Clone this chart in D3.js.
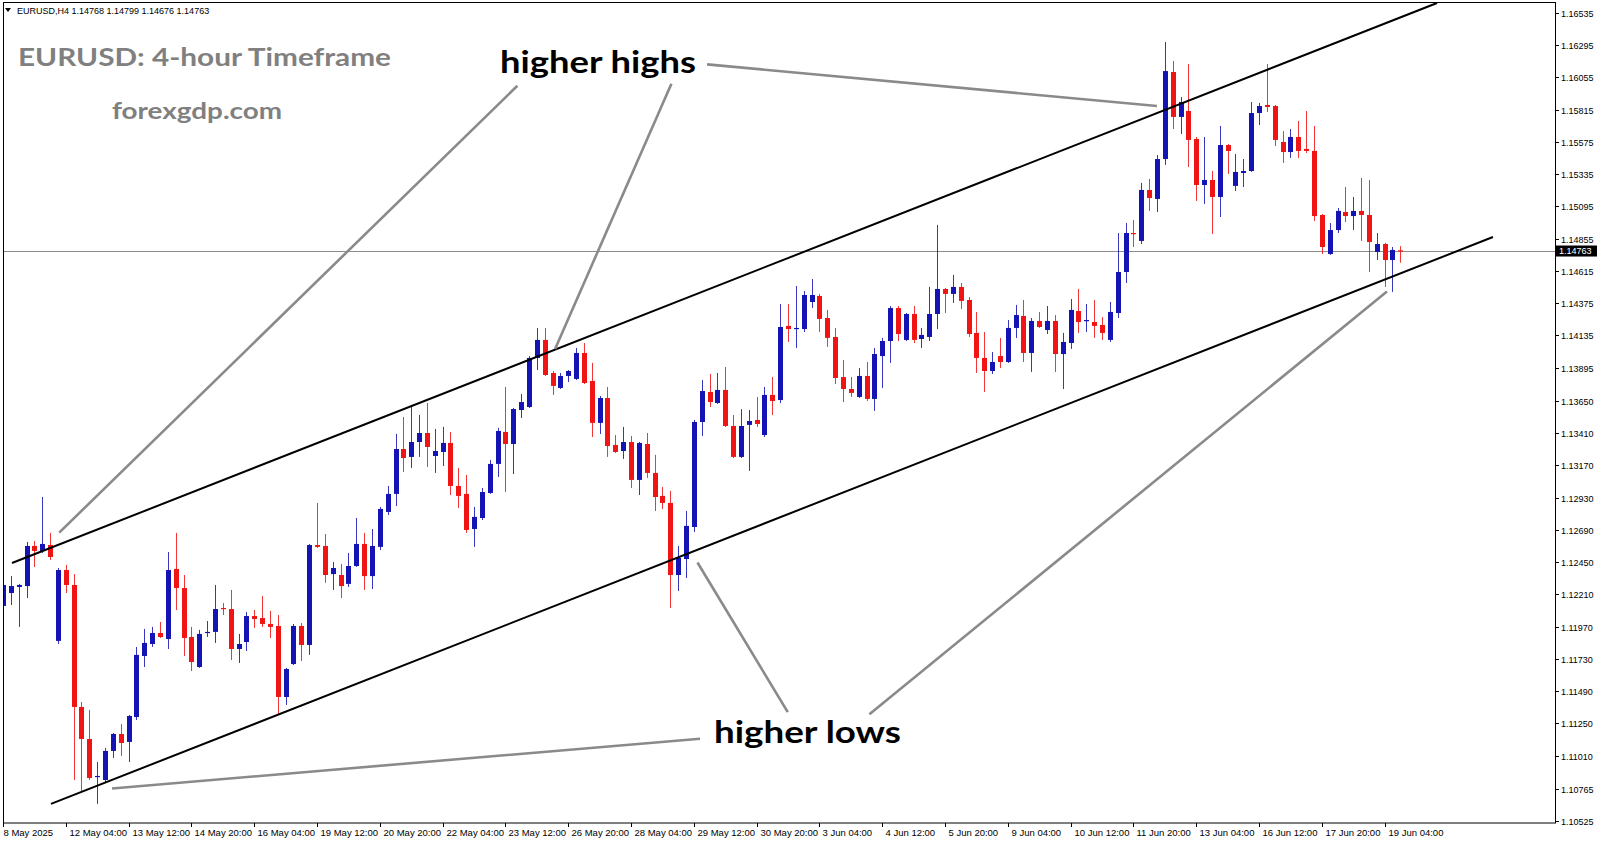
<!DOCTYPE html>
<html><head><meta charset="utf-8">
<script src="https://cdn.jsdelivr.net/npm/d3@7"></script>
<style>html,body{margin:0;padding:0;background:#fff;overflow:hidden}</style>
</head><body>
<svg id="c" width="1600" height="844"></svg>
<script>
// ---- Data (EURUSD H4, 8 May 2025 20:00 -> 19 Jun 2025 12:00) ----
const opens = [1.12124,1.12220,1.12265,1.12272,1.12570,1.12533,1.12577,1.11864,1.12391,1.12280,
1.11373,1.11135,1.10853,1.10830,1.11046,1.11172,1.11113,1.11298,1.11752,1.11841,
1.11923,1.11878,1.12399,1.12257,1.11893,1.11670,1.11923,1.11931,1.12109,1.12101,
1.11804,1.11856,1.12049,1.12034,1.11990,1.11975,1.11447,1.11692,1.11975,1.11834,
1.12577,1.12570,1.12361,1.12354,1.12288,1.12421,1.12585,1.12346,1.12563,1.12823,
1.12957,1.13291,1.13232,1.13343,1.13410,1.13239,1.13269,1.13336,1.13016,1.12957,
1.12696,1.12778,1.12964,1.13180,1.13418,1.13328,1.13581,1.13603,1.13968,1.14102,
1.13856,1.13745,1.13834,1.13812,1.14005,1.13797,1.13485,1.13670,1.13321,1.13276,
1.13343,1.13061,1.13328,1.13113,1.12942,1.12890,1.12354,1.12473,1.12711,1.13492,
1.13715,1.13633,1.13730,1.13462,1.13232,1.13470,1.13507,1.13395,1.13693,1.13655,
1.14206,1.14183,1.14183,1.14384,1.14429,1.14265,1.14124,1.13826,1.13737,1.13678,
1.13834,1.13663,1.13982,1.14094,1.14339,1.14102,1.14295,1.14109,1.14124,1.14295,
1.14481,1.14444,1.14496,1.14399,1.14154,1.13968,1.13871,1.13982,1.13938,1.14191,
1.14280,1.14005,1.14243,1.14176,1.14243,1.13997,1.14079,1.14317,1.14243,1.14235,
1.14213,1.14102,1.14302,1.14607,1.14897,1.14838,1.15217,1.15150,1.15447,1.16094,
1.15760,1.15804,1.15596,1.15254,1.15291,1.15165,1.15551,1.15247,1.15343,1.15358,
1.15789,1.15849,1.15841,1.15574,1.15499,1.15611,1.15522,1.15507,1.15031,1.14741,
1.14919,1.15053,1.15023,1.15061,1.15031,1.14756,1.14815,1.14696,1.14768];
const highs = [1.12296,1.12346,1.12288,1.12600,1.12607,1.12934,1.12667,1.12406,1.12429,1.12361,
1.11410,1.11351,1.10964,1.11068,1.11180,1.11246,1.11313,1.11819,1.11953,1.11968,
1.12005,1.12525,1.12667,1.12354,1.11968,1.11946,1.12012,1.12280,1.12146,1.12243,
1.11916,1.12079,1.12094,1.12198,1.12087,1.12057,1.11663,1.11990,1.11997,1.12585,
1.12890,1.12659,1.12451,1.12436,1.12518,1.12778,1.12667,1.12696,1.12860,1.13016,
1.13403,1.13529,1.13611,1.13544,1.13633,1.13440,1.13455,1.13418,1.13150,1.13098,
1.12860,1.13001,1.13209,1.13448,1.13752,1.13596,1.13700,1.13982,1.14191,1.14191,
1.13871,1.13856,1.13878,1.14042,1.14079,1.13931,1.13685,1.13752,1.13395,1.13455,
1.13388,1.13343,1.13410,1.13247,1.13009,1.12979,1.12570,1.12830,1.13507,1.13804,
1.13849,1.13856,1.13901,1.13544,1.13588,1.13581,1.13678,1.13752,1.13826,1.14369,
1.14369,1.14503,1.14466,1.14555,1.14444,1.14325,1.14191,1.13953,1.13826,1.13893,
1.13938,1.14042,1.14117,1.14354,1.14354,1.14302,1.14354,1.14191,1.14496,1.14957,
1.14488,1.14585,1.14525,1.14421,1.14310,1.14161,1.14012,1.14117,1.14250,1.14362,
1.14399,1.14265,1.14310,1.14354,1.14287,1.14154,1.14406,1.14481,1.14369,1.14399,
1.14272,1.14384,1.14897,1.14971,1.14994,1.15269,1.15299,1.15477,1.16317,1.16176,
1.15908,1.16154,1.15611,1.15611,1.15358,1.15693,1.15559,1.15484,1.15447,1.15871,
1.15864,1.16154,1.15849,1.15655,1.15670,1.15730,1.15804,1.15693,1.15038,1.14971,
1.15083,1.15239,1.15165,1.15306,1.15291,1.14897,1.14823,1.14793,1.14799];
const lows = [1.12116,1.12131,1.11968,1.12183,1.12414,1.12518,1.12466,1.11841,1.12220,1.10830,
1.10741,1.10830,1.10652,1.10808,1.10994,1.11009,1.10964,1.11276,1.11670,1.11819,
1.11886,1.11804,1.12094,1.11752,1.11640,1.11663,1.11893,1.11849,1.12057,1.11722,
1.11700,1.11789,1.11960,1.11968,1.11886,1.11313,1.11388,1.11685,1.11715,1.11760,
1.12555,1.12296,1.12243,1.12183,1.12265,1.12414,1.12243,1.12250,1.12540,1.12800,
1.12867,1.13120,1.13150,1.13232,1.13157,1.13113,1.13165,1.12949,1.12852,1.12667,
1.12563,1.12763,1.12957,1.13083,1.12971,1.13105,1.13522,1.13596,1.13878,1.13834,
1.13693,1.13737,1.13789,1.13804,1.13774,1.13380,1.13403,1.13232,1.13261,1.13217,
1.13001,1.12949,1.13076,1.12830,1.12845,1.12109,1.12235,1.12332,1.12674,1.13388,
1.13603,1.13626,1.13455,1.13224,1.13224,1.13128,1.13455,1.13380,1.13544,1.13633,
1.14087,1.14042,1.14161,1.14339,1.14161,1.14050,1.13774,1.13640,1.13678,1.13670,
1.13648,1.13574,1.13745,1.13931,1.14094,1.14094,1.14079,1.14042,1.14094,1.14183,
1.14302,1.14377,1.14332,1.14124,1.13856,1.13715,1.13849,1.13893,1.13931,1.14117,
1.13938,1.13864,1.14191,1.14146,1.13864,1.13737,1.14035,1.14154,1.14161,1.14117,
1.14102,1.14087,1.14265,1.14525,1.14793,1.14815,1.15061,1.15053,1.15403,1.15670,
1.15633,1.15388,1.15135,1.15113,1.14890,1.15016,1.15336,1.15209,1.15239,1.15351,
1.15700,1.15797,1.15544,1.15418,1.15455,1.15455,1.15492,1.14986,1.14741,1.14734,
1.14897,1.14979,1.14919,1.14838,1.14607,1.14696,1.14496,1.14459,1.14676];
const closes = [1.12280,1.12272,1.12280,1.12570,1.12533,1.12585,1.12488,1.12391,1.12280,1.11373,
1.11135,1.10845,1.10860,1.11046,1.11172,1.11105,1.11306,1.11760,1.11849,1.11923,
1.11893,1.12391,1.12257,1.11886,1.11707,1.11916,1.11931,1.12101,1.12101,1.11804,
1.11841,1.12049,1.12027,1.11990,1.11968,1.11447,1.11655,1.11975,1.11834,1.12577,
1.12563,1.12354,1.12406,1.12272,1.12421,1.12585,1.12346,1.12570,1.12845,1.12957,
1.13291,1.13224,1.13343,1.13410,1.13306,1.13276,1.13336,1.13016,1.12942,1.12689,
1.12786,1.12971,1.13180,1.13425,1.13328,1.13588,1.13640,1.13968,1.14102,1.13841,
1.13760,1.13834,1.13871,1.14005,1.13782,1.13485,1.13670,1.13313,1.13269,1.13343,
1.13061,1.13336,1.13113,1.12934,1.12890,1.12354,1.12481,1.12719,1.13492,1.13722,
1.13640,1.13730,1.13462,1.13232,1.13462,1.13499,1.13477,1.13693,1.13648,1.14198,
1.14183,1.14191,1.14436,1.14436,1.14258,1.14117,1.13819,1.13737,1.13708,1.13834,
1.13663,1.13997,1.14094,1.14339,1.14146,1.14295,1.14102,1.14139,1.14295,1.14481,
1.14444,1.14496,1.14392,1.14146,1.13968,1.13871,1.13938,1.13938,1.14191,1.14287,
1.14005,1.14243,1.14198,1.14243,1.13997,1.14087,1.14325,1.14235,1.14250,1.14206,
1.14154,1.14310,1.14607,1.14897,1.14890,1.15217,1.15157,1.15447,1.16101,1.15760,
1.15871,1.15589,1.15254,1.15291,1.15165,1.15551,1.15507,1.15351,1.15358,1.15789,
1.15841,1.15834,1.15589,1.15499,1.15611,1.15507,1.15507,1.15023,1.14793,1.14919,
1.15061,1.15023,1.15061,1.15031,1.14830,1.14815,1.14696,1.14771,1.14763];

// time-axis labels: [candle index, text]
const timeTicks = [[0,"8 May 2025"],[8,"12 May 04:00"],[16,"13 May 12:00"],[24,"14 May 20:00"],
[32,"16 May 04:00"],[40,"19 May 12:00"],[48,"20 May 20:00"],[56,"22 May 04:00"],[64,"23 May 12:00"],
[72,"26 May 20:00"],[80,"28 May 04:00"],[88,"29 May 12:00"],[96,"30 May 20:00"],[104,"3 Jun 04:00"],
[112,"4 Jun 12:00"],[120,"5 Jun 20:00"],[128,"9 Jun 04:00"],[136,"10 Jun 12:00"],[144,"11 Jun 20:00"],
[152,"13 Jun 04:00"],[160,"16 Jun 12:00"],[168,"17 Jun 20:00"],[176,"19 Jun 04:00"]];
const priceTicks = [1.16535,1.16295,1.16055,1.15815,1.15575,1.15335,1.15095,1.14855,1.14615,1.14375,
1.14135,1.13895,1.13650,1.13410,1.13170,1.12930,1.12690,1.12450,1.12210,1.11970,1.11730,1.11490,
1.11250,1.11010,1.10765,1.10525];
const lastPrice = 1.14763;
const headerText = "EURUSD,H4  1.14768 1.14799 1.14676 1.14763";
// channel trendlines: [index, price] pairs
const upperChannel = [[1.146,1.12443],[182.68,1.16607]];
const lowerChannel = [[6.11,1.10652],[189.8,1.14867]];
// annotation pointer lines: [[index, price],[index, price]]
const pointers = [
 [[65.53,1.15992],[7.16,1.12669]],
 [[85.15,1.16007],[70.33,1.14035]],
 [[89.69,1.16151],[147.0,1.15841]],
 [[88.79,1.11137],[13.89,1.10767]],
 [[99.97,1.11334],[88.47,1.12447]],
 [[110.37,1.11319],[176.3,1.14462]]
];

// ---- Layout ----
const L = 3, R = 1555, T = 2.5, B = 823;
const svg = d3.select("#c");
const x = d3.scaleLinear().domain([0, 178]).range([3, 3 + 7.85*178]);
const y = d3.scaleLinear().domain([1.10525, 1.16535]).range([821, 12.7]);
const BULL = "#1414b4", BEAR = "#f01414";

svg.append("defs").append("clipPath").attr("id","plot")
  .append("rect").attr("x",L+0.5).attr("y",T).attr("width",R-L-0.5).attr("height",B-T);

// current price line
svg.append("line").attr("x1",L).attr("x2",R).attr("y1",Math.round(y(lastPrice))+0.5).attr("y2",Math.round(y(lastPrice))+0.5)
  .attr("stroke","#8c8c8c").attr("stroke-width",1);

const data = opens.map((o,i)=>({i,o,h:highs[i],l:lows[i],c:closes[i]}));
const g = svg.append("g").attr("clip-path","url(#plot)");
const cg = g.selectAll("g.cd").data(data).join("g");
cg.append("line")
  .attr("x1",d=>Math.round(x(d.i))+0.5).attr("x2",d=>Math.round(x(d.i))+0.5)
  .attr("y1",d=>y(d.h)).attr("y2",d=>y(d.l))
  .attr("stroke",d=>d.c>=d.o?BULL:BEAR).attr("stroke-width",1).attr("opacity",0.85);
cg.append("rect")
  .attr("x",d=>Math.round(x(d.i))-2).attr("width",5)
  .attr("y",d=>Math.min(y(d.o),y(d.c)))
  .attr("height",d=>Math.max(1.2,Math.abs(y(d.o)-y(d.c))))
  .attr("fill",d=>d.c>=d.o?BULL:BEAR);

// channel lines
const line = d3.line().x(d=>x(d[0])).y(d=>y(d[1]));
[upperChannel, lowerChannel].forEach(seg=>{
  g.append("path").attr("d",line(seg)).attr("stroke","#000").attr("stroke-width",2).attr("fill","none");
});
// pointer lines
pointers.forEach(seg=>{
  g.append("path").attr("d",line(seg)).attr("stroke","#8a8a8a").attr("stroke-width",2.6).attr("fill","none");
});

// frame
svg.append("rect").attr("x",L+0.5).attr("y",T).attr("width",R-L).attr("height",B-T)
  .attr("fill","none").attr("stroke","#000").attr("stroke-width",1);

// price axis
const pa = svg.append("g");
priceTicks.forEach(p=>{
  const yy = Math.round(y(p))+0.5;
  pa.append("line").attr("x1",R+0.5).attr("x2",R+4).attr("y1",yy).attr("y2",yy).attr("stroke","#000");
  pa.append("text").attr("x",R+6).attr("y",yy+3.2).text(p.toFixed(5))
    .attr("font-family","Liberation Sans, Arial, sans-serif").attr("font-size",9).attr("fill","#000");
});
const ly = y(lastPrice);
pa.append("rect").attr("x",R+1).attr("y",ly-5.5).attr("width",41).attr("height",11).attr("fill","#000");
pa.append("text").attr("x",R+4).attr("y",ly+3.3).text(lastPrice.toFixed(5))
  .attr("font-family","Liberation Sans, Arial, sans-serif").attr("font-size",9).attr("fill","#fff");

// time axis
const ta = svg.append("g");
timeTicks.forEach(([i,t])=>{
  const xx = Math.round(x(i))+0.5;
  ta.append("line").attr("x1",xx).attr("x2",xx).attr("y1",B).attr("y2",B+4).attr("stroke","#000");
  ta.append("text").attr("x",xx+ (i===0?0:3)).attr("y",B+12.5).text(t)
    .attr("font-family","Liberation Sans, Arial, sans-serif").attr("font-size",9.5).attr("fill","#000");
});

// header
svg.append("path").attr("d","M5,8 L11,8 L8,12 Z").attr("fill","#000");
svg.append("text").attr("x",17).attr("y",13.5).text(headerText)
  .attr("font-family","Liberation Sans, Arial, sans-serif").attr("font-size",9).attr("fill","#000");

// titles / annotations
function label(txt, x0, base, size, w, color){
  svg.append("text").attr("x",x0).attr("y",base).text(txt)
    .attr("font-family","Lato, 'Open Sans', sans-serif").attr("font-weight","bold")
    .attr("font-size",size).attr("fill",color)
    .attr("textLength",w).attr("lengthAdjust","spacingAndGlyphs");
}
label("EURUSD: 4-hour Timeframe", 18, 66, 25, 373, "#808080");
label("forexgdp.com", 112, 119, 22, 170, "#808080");
label("higher highs", 500, 73, 31, 196, "#000");
label("higher lows", 714, 743, 31, 187, "#000");
</script>
</body></html>
